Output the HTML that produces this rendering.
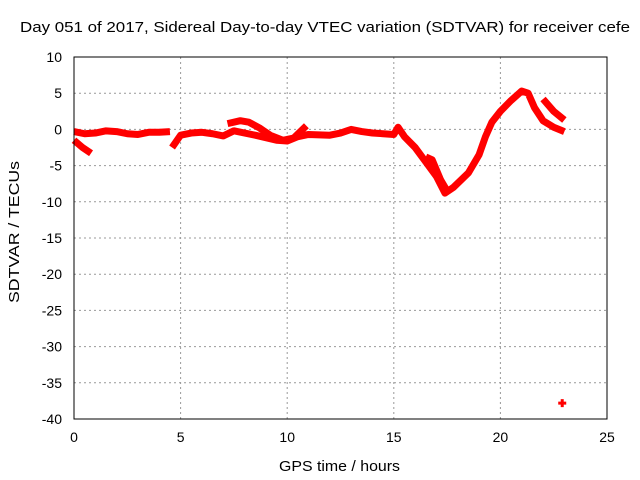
<!DOCTYPE html>
<html><head><meta charset="utf-8"><style>
body{margin:0;background:#fff;}
svg{display:block;font-family:"Liberation Sans",sans-serif;}
</style></head><body>
<svg id="chart" width="640" height="480">
<rect width="640" height="480" fill="#fff"/>
<text x="20" y="32" font-size="15" textLength="610" lengthAdjust="spacingAndGlyphs">Day 051 of 2017, Sidereal Day-to-day VTEC variation (SDTVAR) for receiver cefe</text>
<text x="279" y="471" font-size="15" textLength="121" lengthAdjust="spacingAndGlyphs">GPS time / hours</text>
<text x="19" y="303" font-size="15" textLength="142" lengthAdjust="spacingAndGlyphs" transform="rotate(-90 19 303)">SDTVAR / TECUs</text>
<g id="grid"></g><g id="ticks"></g><g id="marks"></g>
<rect x="74" y="57" width="533" height="362" fill="none" stroke="#000" stroke-width="1"/>
</svg>
<script>
const xTicks=[0,5,10,15,20,25];
const yTicks=[10,5,0,-5,-10,-15,-20,-25,-30,-35,-40];
const seriesA_h=[0,0.5,1,1.5,2,2.5,3,3.5,4,4.5];
const seriesA_v=[-0.3,-0.6,-0.5,-0.2,-0.3,-0.6,-0.7,-0.4,-0.4,-0.3];
const seriesB_h=[0,0.4,0.8];
const seriesB_v=[-1.5,-2.5,-3.3];
const seriesC_h=[4.6,5,5.5,6,6.5,7,7.5,8.5,9.5,10,10.5,11,12,12.5,13,13.5,14,14.5,15,15.2,15.5,16,16.5,17,17.4,17.8,18.5,19,19.3,19.6,20,20.5,21,21.3,21.6,22,22.5,23];
const seriesC_v=[-2.5,-0.8,-0.5,-0.4,-0.6,-0.9,-0.2,-0.8,-1.5,-1.6,-1.0,-0.7,-0.8,-0.5,0,-0.3,-0.5,-0.6,-0.7,0.3,-1.0,-2.5,-4.5,-6.5,-8.8,-8,-6,-3.5,-1,1,2.5,4,5.3,5.0,3,1.2,0.3,-0.3];
const seriesD_h=[7.2,7.8,8.2,8.7,9.2,9.8,10.3,10.9];
const seriesD_v=[0.8,1.2,1.0,0.2,-0.8,-1.5,-1.2,0.5];
const seriesE_h=[16.5,16.8,17.2,17.5];
const seriesE_v=[-3.8,-4.2,-7,-8.5];
const seriesF_h=[22,22.5,23];
const seriesF_v=[4.2,2.5,1.3];
const outlier_h=[22.9];
const outlier_v=[-37.8];
const X=h=>74+h*533/25, Y=v=>57+(10-v)*362/50;
const NS="http://www.w3.org/2000/svg";
function mk(t,a,p){const e=document.createElementNS(NS,t);for(const k in a)e.setAttribute(k,a[k]);p.appendChild(e);return e;}
const g=document.getElementById('grid'),tk=document.getElementById('ticks'),m=document.getElementById('marks');
xTicks.forEach(t=>{
 if(t>0&&t<25){const l=mk('line',{x1:X(t),x2:X(t),y1:57,y2:419,stroke:'#999','stroke-dasharray':'2,3'},g);
 
 }
 const s=mk('text',{x:X(t),y:442,'font-size':14,'text-anchor':'middle'},tk);s.textContent=t;
 
 
});
yTicks.forEach(t=>{
 if(t<10&&t>-40){const l=mk('line',{x1:74,x2:607,y1:Y(t),y2:Y(t),stroke:'#999','stroke-dasharray':'2,3'},g);
 
 }
 const s=mk('text',{x:62,y:Y(t)+5,'font-size':14,'text-anchor':'end'},tk);s.textContent=t;
 
 
});
function draw(hs,vs,name){
 const pl=mk('polyline',{points:hs.map((h,i)=>X(h)+','+Y(vs[i])).join(' '),fill:'none',stroke:'#f00','stroke-width':7,'stroke-linejoin':'round'},m);
 
 
}
draw(seriesA_h,seriesA_v,'series-a');
draw(seriesB_h,seriesB_v,'series-b');
draw(seriesC_h,seriesC_v,'series-c');
draw(seriesD_h,seriesD_v,'series-d');
draw(seriesE_h,seriesE_v,'series-e');
draw(seriesF_h,seriesF_v,'series-f');
outlier_h.forEach((h,i)=>{
 const p=mk('path',{d:`M${X(h)-4},${Y(outlier_v[i])}h8M${X(h)},${Y(outlier_v[i])-4}v8`,stroke:'#f00','stroke-width':3},m);
 
 
});
</script>
</body></html>
